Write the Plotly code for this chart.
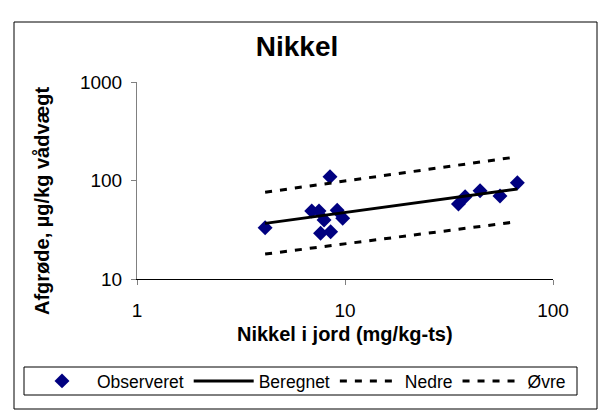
import plotly.graph_objects as go

# Observed data
obs_x = [4.13, 6.92, 7.5, 7.63, 7.93, 8.47, 8.53, 9.17, 9.75, 35.1, 37.8, 44.6, 55.6, 67.4]
obs_y = [33.2, 49, 49, 29.1, 39.7, 109, 30.2, 50, 41.4, 57.7, 68.5, 78.7, 69.7, 95]

# Fitted line and bounds (endpoints)
line_x = [4.13, 67.4]
beregnet_y = [36.7, 82]
nedre_y = [17.9, 38.2]
oevre_y = [76, 174]

x_ticks = [1, 10, 100]
y_ticks = [10, 100, 1000]

FONT = "Liberation Sans, Arial, sans-serif"
DASH = "7px,8px"

fig = go.Figure()
fig.add_trace(go.Scatter(x=obs_x, y=obs_y, mode="markers", name="Observeret",
                         marker=dict(symbol="diamond", size=11.5, color="#000080",
                                     line=dict(width=0))))
fig.add_trace(go.Scatter(x=line_x, y=beregnet_y, mode="lines", name="Beregnet",
                         line=dict(color="black", width=3)))
fig.add_trace(go.Scatter(x=line_x, y=nedre_y, mode="lines", name="Nedre",
                         line=dict(color="black", width=3, dash=DASH)))
fig.add_trace(go.Scatter(x=line_x, y=oevre_y, mode="lines", name="Øvre",
                         line=dict(color="black", width=3, dash=DASH)))

L, R, T, B = 137, 553, 82, 279
W, H = 605, 412
pw, ph = R - L, B - T

def px(xp):
    return (xp - L) / pw

def py(yp):
    return (B - yp) / ph

fig.update_layout(
    width=W, height=H,
    margin=dict(l=L, r=W - R, t=T, b=H - B, autoexpand=False),
    paper_bgcolor="white", plot_bgcolor="white",
    font=dict(family=FONT, size=19, color="black"),
    title=dict(text="<b>Nikkel</b>", x=297 / W, xanchor="center",
               y=1 - 46 / H, yanchor="middle", font=dict(size=28)),
    showlegend=True,
    legend=dict(orientation="h", xref="paper", yref="paper",
                x=px(27), y=py(381), xanchor="left", yanchor="middle",
                borderwidth=0, bgcolor="rgba(0,0,0,0)",
                font=dict(size=17.5), entrywidth=0, itemwidth=60,
                tracegroupgap=0),
    xaxis=dict(type="log", range=[0, 2], tickvals=x_ticks, ticktext=[str(v) for v in x_ticks],
               showgrid=False, zeroline=False, showline=True, linecolor="black", linewidth=1,
               ticks="outside", ticklen=5, tickcolor="#808080", ticklabelstandoff=9),
    yaxis=dict(type="log", range=[1, 3], tickvals=y_ticks, ticktext=[str(v) for v in y_ticks],
               showgrid=False, zeroline=False, showline=True, linecolor="#808080", linewidth=1,
               ticks="outside", ticklen=5, tickcolor="#808080", ticklabelstandoff=5),
    annotations=[
        dict(text="<b>Nikkel i jord (mg/kg-ts)</b>", xref="paper", yref="paper",
             x=px(345), y=py(334), xanchor="center", yanchor="middle",
             showarrow=False, font=dict(size=20)),
        dict(text="<b>Afgrøde, µg/kg vådvægt</b>", xref="paper", yref="paper",
             x=px(42), y=py(201), xanchor="center", yanchor="middle", textangle=-90,
             showarrow=False, font=dict(size=20)),
    ],
    shapes=[
        dict(type="rect", xref="paper", yref="paper",
             x0=px(14), x1=px(597), y0=py(409), y1=py(22),
             line=dict(color="black", width=1), fillcolor="rgba(0,0,0,0)", layer="below"),
        dict(type="rect", xref="paper", yref="paper",
             x0=px(24), x1=px(577), y0=py(395), y1=py(367),
             line=dict(color="black", width=1), fillcolor="rgba(0,0,0,0)", layer="below"),
    ],
)

fig.write_html("out.html")
